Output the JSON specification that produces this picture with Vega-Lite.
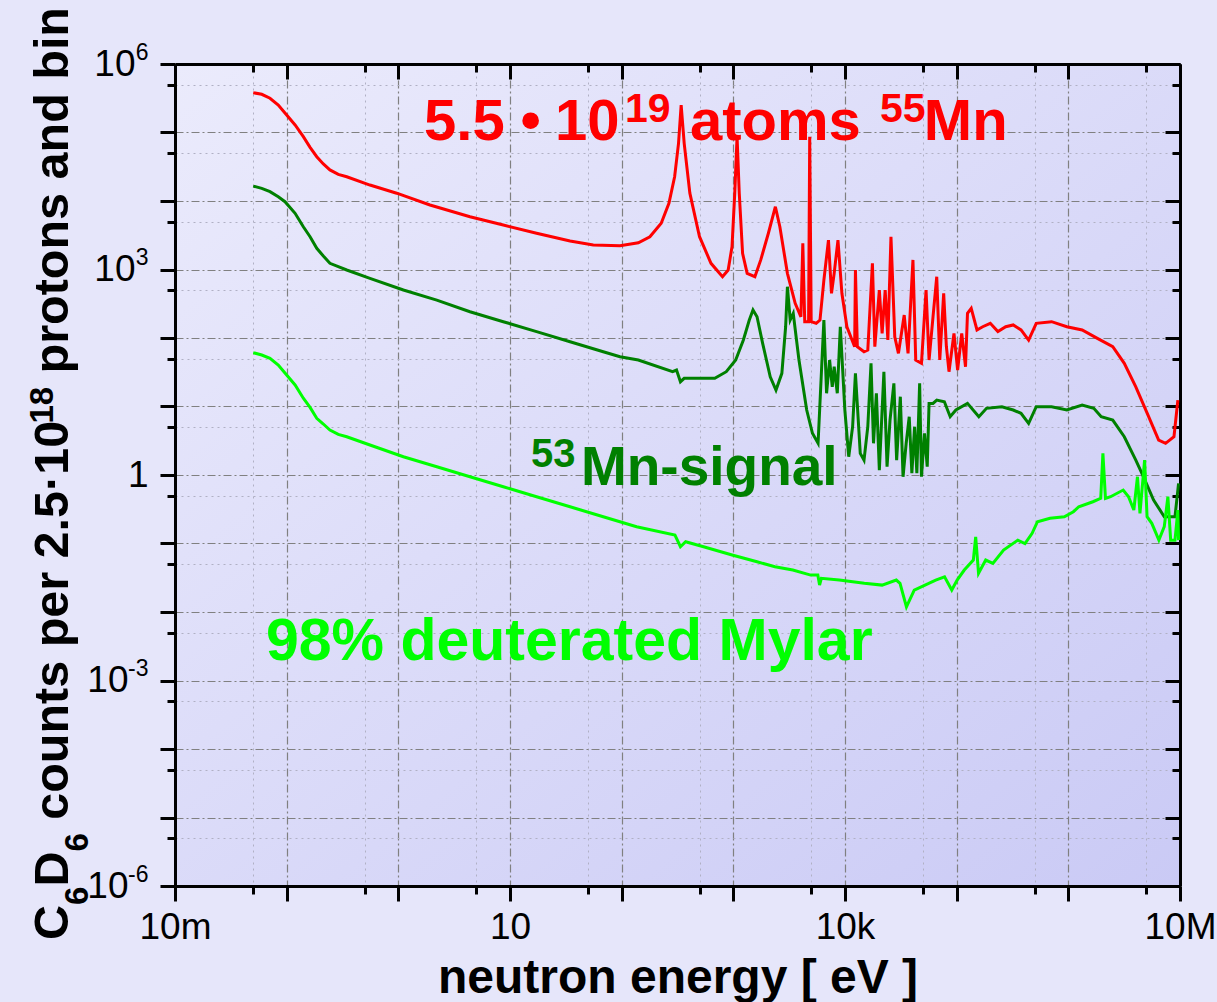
{
  "$schema": "https://vega.github.io/schema/vega-lite/v6.json",
  "width": 1005,
  "height": 822,
  "autosize": {"type": "none"},
  "padding": {"left": 175, "top": 64, "right": 37, "bottom": 116},
  "background": "#e6e6fa",
  "config": {
    "view": {"stroke": null, "fill": {"gradient": "linear", "x1": 0, "y1": 0, "x2": 1, "y2": 1, "stops": [{"offset": 0, "color": "#ebebfc"}, {"offset": 1, "color": "#cacaf5"}]}},
    "font": "Liberation Sans"
  },
  "datasets": {
    "curves": [
      {"s":"Mn55","e":0.0502,"c":381000},{"s":"Mn55","e":0.0598,"c":361000},{"s":"Mn55","e":0.0709,"c":316000},{"s":"Mn55","e":0.0841,"c":252000},{"s":"Mn55","e":0.1,"c":180000},{"s":"Mn55","e":0.119,"c":129000},{"s":"Mn55","e":0.141,"c":86900},{"s":"Mn55","e":0.162,"c":60800},{"s":"Mn55","e":0.186,"c":44300},{"s":"Mn55","e":0.213,"c":34700},{"s":"Mn55","e":0.244,"c":28400},{"s":"Mn55","e":0.29,"c":24500},{"s":"Mn55","e":0.345,"c":22600},{"s":"Mn55","e":0.557,"c":17100},{"s":"Mn55","e":0.967,"c":13000},{"s":"Mn55","e":1.92,"c":8740},{"s":"Mn55","e":4.38,"c":5900},{"s":"Mn55","e":8.71,"c":4460},{"s":"Mn55","e":17.3,"c":3380},{"s":"Mn55","e":34.5,"c":2610},{"s":"Mn55","e":55.7,"c":2280},{"s":"Mn55","e":96.6,"c":2220},{"s":"Mn55","e":141,"c":2460},{"s":"Mn55","e":179,"c":3010},{"s":"Mn55","e":226,"c":4720},{"s":"Mn55","e":265,"c":9250},{"s":"Mn55","e":298,"c":22600},{"s":"Mn55","e":323,"c":69500},{"s":"Mn55","e":341,"c":252000},{"s":"Mn55","e":363,"c":69500},{"s":"Mn55","e":408,"c":13000},{"s":"Mn55","e":498,"c":3010},{"s":"Mn55","e":631,"c":1230},{"s":"Mn55","e":800,"c":785},{"s":"Mn55","e":899,"c":983},{"s":"Mn55","e":973,"c":2150},{"s":"Mn55","e":1030,"c":13000},{"s":"Mn55","e":1080,"c":86900},{"s":"Mn55","e":1130,"c":13000},{"s":"Mn55","e":1210,"c":1720},{"s":"Mn55","e":1330,"c":879},{"s":"Mn55","e":1560,"c":785},{"s":"Mn55","e":1760,"c":1380},{"s":"Mn55","e":2060,"c":3380},{"s":"Mn55","e":2380,"c":8250},{"s":"Mn55","e":2610,"c":4210},{"s":"Mn55","e":3050,"c":879},{"s":"Mn55","e":3580,"c":321},{"s":"Mn55","e":4030,"c":204},{"s":"Mn55","e":4190,"c":2410},{"s":"Mn55","e":4360,"c":173},{"s":"Mn55","e":4720,"c":173},{"s":"Mn55","e":4830,"c":86900},{"s":"Mn55","e":4980,"c":173},{"s":"Mn55","e":5520,"c":164},{"s":"Mn55","e":5970,"c":183},{"s":"Mn55","e":6470,"c":702},{"s":"Mn55","e":7110,"c":2690},{"s":"Mn55","e":7570,"c":449},{"s":"Mn55","e":8000,"c":879},{"s":"Mn55","e":8650,"c":2690},{"s":"Mn55","e":9380,"c":449},{"s":"Mn55","e":10400,"c":146},{"s":"Mn55","e":12200,"c":74.6},{"s":"Mn55","e":12400,"c":983},{"s":"Mn55","e":12900,"c":74.6},{"s":"Mn55","e":14800,"c":63},{"s":"Mn55","e":16000,"c":66.7},{"s":"Mn55","e":17600,"c":1230},{"s":"Mn55","e":18500,"c":74.6},{"s":"Mn55","e":20300,"c":502},{"s":"Mn55","e":21500,"c":117},{"s":"Mn55","e":22900,"c":502},{"s":"Mn55","e":24200,"c":93.4},{"s":"Mn55","e":25800,"c":3010},{"s":"Mn55","e":27900,"c":104},{"s":"Mn55","e":30100,"c":59.7},{"s":"Mn55","e":33900,"c":216},{"s":"Mn55","e":36700,"c":59.7},{"s":"Mn55","e":40600,"c":1380},{"s":"Mn55","e":43000,"c":47.7},{"s":"Mn55","e":48400,"c":42.7},{"s":"Mn55","e":53200,"c":502},{"s":"Mn55","e":56600,"c":47.7},{"s":"Mn55","e":61400,"c":204},{"s":"Mn55","e":66300,"c":785},{"s":"Mn55","e":70600,"c":47.7},{"s":"Mn55","e":76500,"c":449},{"s":"Mn55","e":80900,"c":74.6},{"s":"Mn55","e":85400,"c":32.2},{"s":"Mn55","e":94600,"c":117},{"s":"Mn55","e":102000,"c":34.1},{"s":"Mn55","e":111000,"c":117},{"s":"Mn55","e":120000,"c":38.1},{"s":"Mn55","e":125000,"c":229},{"s":"Mn55","e":135000,"c":271},{"s":"Mn55","e":152000,"c":131},{"s":"Mn55","e":171000,"c":146},{"s":"Mn55","e":200000,"c":164},{"s":"Mn55","e":234000,"c":124},{"s":"Mn55","e":275000,"c":146},{"s":"Mn55","e":321000,"c":155},{"s":"Mn55","e":377000,"c":131},{"s":"Mn55","e":441000,"c":93.4},{"s":"Mn55","e":516000,"c":164},{"s":"Mn55","e":708000,"c":173},{"s":"Mn55","e":970000,"c":146},{"s":"Mn55","e":1330000,"c":131},{"s":"Mn55","e":1820000,"c":98.9},{"s":"Mn55","e":2500000,"c":74.6},{"s":"Mn55","e":3170000,"c":42.7},{"s":"Mn55","e":4020000,"c":19.4},{"s":"Mn55","e":5090000,"c":7.95},{"s":"Mn55","e":6440000,"c":3.24},{"s":"Mn55","e":7430000,"c":2.9},{"s":"Mn55","e":8830000,"c":3.62},{"s":"Mn55","e":9570000,"c":12.4},
      {"s":"Mn53","e":0.0502,"c":16500},{"s":"Mn53","e":0.0598,"c":15300},{"s":"Mn53","e":0.0709,"c":13700},{"s":"Mn53","e":0.0841,"c":11500},{"s":"Mn53","e":0.0966,"c":9760},{"s":"Mn53","e":0.119,"c":6610},{"s":"Mn53","e":0.141,"c":4210},{"s":"Mn53","e":0.162,"c":3010},{"s":"Mn53","e":0.186,"c":2040},{"s":"Mn53","e":0.213,"c":1570},{"s":"Mn53","e":0.244,"c":1230},{"s":"Mn53","e":0.29,"c":1100},{"s":"Mn53","e":0.345,"c":983},{"s":"Mn53","e":0.557,"c":743},{"s":"Mn53","e":1.11,"c":502},{"s":"Mn53","e":2.21,"c":358},{"s":"Mn53","e":4.38,"c":242},{"s":"Mn53","e":8.71,"c":173},{"s":"Mn53","e":17.3,"c":124},{"s":"Mn53","e":34.5,"c":88.2},{"s":"Mn53","e":68.4,"c":63},{"s":"Mn53","e":96.6,"c":53.3},{"s":"Mn53","e":141,"c":47.7},{"s":"Mn53","e":286,"c":32.2},{"s":"Mn53","e":310,"c":34.1},{"s":"Mn53","e":336,"c":23},{"s":"Mn53","e":363,"c":25.8},{"s":"Mn53","e":498,"c":25.8},{"s":"Mn53","e":682,"c":25.8},{"s":"Mn53","e":865,"c":32.2},{"s":"Mn53","e":1050,"c":47.7},{"s":"Mn53","e":1230,"c":93.4},{"s":"Mn53","e":1390,"c":183},{"s":"Mn53","e":1500,"c":256},{"s":"Mn53","e":1630,"c":204},{"s":"Mn53","e":1830,"c":83.6},{"s":"Mn53","e":2140,"c":27.2},{"s":"Mn53","e":2410,"c":17.4},{"s":"Mn53","e":2720,"c":30.5},{"s":"Mn53","e":2940,"c":146},{"s":"Mn53","e":3050,"c":561},{"s":"Mn53","e":3230,"c":183},{"s":"Mn53","e":3440,"c":229},{"s":"Mn53","e":3870,"c":47.7},{"s":"Mn53","e":4540,"c":8.88},{"s":"Mn53","e":5110,"c":4.06},{"s":"Mn53","e":5740,"c":2.9},{"s":"Mn53","e":6470,"c":183},{"s":"Mn53","e":6840,"c":15.6},{"s":"Mn53","e":7280,"c":47.7},{"s":"Mn53","e":7690,"c":19.4},{"s":"Mn53","e":8000,"c":38.1},{"s":"Mn53","e":8530,"c":15.6},{"s":"Mn53","e":9080,"c":146},{"s":"Mn53","e":9970,"c":8.88},{"s":"Mn53","e":10800,"c":1.85},{"s":"Mn53","e":11700,"c":5.07},{"s":"Mn53","e":12400,"c":30.5},{"s":"Mn53","e":13700,"c":2.07},{"s":"Mn53","e":14800,"c":1.65},{"s":"Mn53","e":16000,"c":5.07},{"s":"Mn53","e":17100,"c":42.7},{"s":"Mn53","e":18000,"c":2.9},{"s":"Mn53","e":19100,"c":15.6},{"s":"Mn53","e":20300,"c":1.18},{"s":"Mn53","e":22300,"c":32.2},{"s":"Mn53","e":23800,"c":1.32},{"s":"Mn53","e":25300,"c":6.34},{"s":"Mn53","e":27400,"c":21.8},{"s":"Mn53","e":29000,"c":1.65},{"s":"Mn53","e":31300,"c":13.9},{"s":"Mn53","e":33100,"c":0.943},{"s":"Mn53","e":35300,"c":2.9},{"s":"Mn53","e":37600,"c":7.09},{"s":"Mn53","e":39700,"c":1.06},{"s":"Mn53","e":42000,"c":5.07},{"s":"Mn53","e":44000,"c":1.06},{"s":"Mn53","e":46600,"c":21.8},{"s":"Mn53","e":48400,"c":0.943},{"s":"Mn53","e":51500,"c":4.06},{"s":"Mn53","e":54500,"c":1.32},{"s":"Mn53","e":56600,"c":11.1},{"s":"Mn53","e":61400,"c":11.1},{"s":"Mn53","e":66300,"c":12.4},{"s":"Mn53","e":77600,"c":11.7},{"s":"Mn53","e":87500,"c":7.09},{"s":"Mn53","e":98400,"c":8.88},{"s":"Mn53","e":125000,"c":11.1},{"s":"Mn53","e":158000,"c":7.09},{"s":"Mn53","e":185000,"c":9.4},{"s":"Mn53","e":254000,"c":9.92},{"s":"Mn53","e":321000,"c":8.88},{"s":"Mn53","e":377000,"c":7.95},{"s":"Mn53","e":441000,"c":5.68},{"s":"Mn53","e":516000,"c":9.92},{"s":"Mn53","e":708000,"c":9.92},{"s":"Mn53","e":970000,"c":8.88},{"s":"Mn53","e":1330000,"c":10.5},{"s":"Mn53","e":1690000,"c":9.4},{"s":"Mn53","e":1970000,"c":7.09},{"s":"Mn53","e":2500000,"c":6.34},{"s":"Mn53","e":3170000,"c":3.62},{"s":"Mn53","e":4020000,"c":1.65},{"s":"Mn53","e":4700000,"c":0.943},{"s":"Mn53","e":5800000,"c":0.431},{"s":"Mn53","e":7230000,"c":0.246},{"s":"Mn53","e":9020000,"c":0.246},{"s":"Mn53","e":9710000,"c":0.755},
      {"s":"Mylar","e":0.0502,"c":61},{"s":"Mylar","e":0.0598,"c":56.4},{"s":"Mylar","e":0.0709,"c":50.5},{"s":"Mylar","e":0.0841,"c":40.3},{"s":"Mylar","e":0.1,"c":28.8},{"s":"Mylar","e":0.119,"c":20.6},{"s":"Mylar","e":0.141,"c":13.2},{"s":"Mylar","e":0.162,"c":9.72},{"s":"Mylar","e":0.186,"c":6.72},{"s":"Mylar","e":0.213,"c":5.55},{"s":"Mylar","e":0.244,"c":4.53},{"s":"Mylar","e":0.29,"c":3.92},{"s":"Mylar","e":0.345,"c":3.62},{"s":"Mylar","e":0.557,"c":2.74},{"s":"Mylar","e":1.11,"c":1.85},{"s":"Mylar","e":2.21,"c":1.32},{"s":"Mylar","e":4.38,"c":0.943},{"s":"Mylar","e":8.71,"c":0.674},{"s":"Mylar","e":17.3,"c":0.482},{"s":"Mylar","e":34.5,"c":0.344},{"s":"Mylar","e":68.4,"c":0.246},{"s":"Mylar","e":136,"c":0.176},{"s":"Mylar","e":300,"c":0.133},{"s":"Mylar","e":336,"c":0.0897},{"s":"Mylar","e":374,"c":0.106},{"s":"Mylar","e":541,"c":0.0897},{"s":"Mylar","e":975,"c":0.0678},{"s":"Mylar","e":1630,"c":0.0541},{"s":"Mylar","e":2360,"c":0.0458},{"s":"Mylar","e":3410,"c":0.041},{"s":"Mylar","e":4930,"c":0.0346},{"s":"Mylar","e":5710,"c":0.0346},{"s":"Mylar","e":5920,"c":0.0247},{"s":"Mylar","e":6140,"c":0.031},{"s":"Mylar","e":8890,"c":0.0293},{"s":"Mylar","e":14900,"c":0.0262},{"s":"Mylar","e":21500,"c":0.0247},{"s":"Mylar","e":28800,"c":0.0293},{"s":"Mylar","e":31100,"c":0.0262},{"s":"Mylar","e":35500,"c":0.0119},{"s":"Mylar","e":41700,"c":0.0209},{"s":"Mylar","e":64900,"c":0.0293},{"s":"Mylar","e":77900,"c":0.0327},{"s":"Mylar","e":90400,"c":0.0209},{"s":"Mylar","e":101000,"c":0.0293},{"s":"Mylar","e":117000,"c":0.041},{"s":"Mylar","e":141000,"c":0.0573},{"s":"Mylar","e":148000,"c":0.125},{"s":"Mylar","e":157000,"c":0.0367},{"s":"Mylar","e":182000,"c":0.0573},{"s":"Mylar","e":211000,"c":0.0513},{"s":"Mylar","e":263000,"c":0.0802},{"s":"Mylar","e":353000,"c":0.112},{"s":"Mylar","e":409000,"c":0.1},{"s":"Mylar","e":474000,"c":0.141},{"s":"Mylar","e":529000,"c":0.208},{"s":"Mylar","e":685000,"c":0.233},{"s":"Mylar","e":920000,"c":0.246},{"s":"Mylar","e":1110000,"c":0.291},{"s":"Mylar","e":1240000,"c":0.344},{"s":"Mylar","e":1660000,"c":0.407},{"s":"Mylar","e":1950000,"c":0.456},{"s":"Mylar","e":2040000,"c":2.07},{"s":"Mylar","e":2150000,"c":0.456},{"s":"Mylar","e":2390000,"c":0.482},{"s":"Mylar","e":3100000,"c":0.603},{"s":"Mylar","e":3460000,"c":0.482},{"s":"Mylar","e":3860000,"c":0.308},{"s":"Mylar","e":4160000,"c":0.943},{"s":"Mylar","e":4380000,"c":0.276},{"s":"Mylar","e":4820000,"c":1.65},{"s":"Mylar","e":5070000,"c":0.246},{"s":"Mylar","e":5590000,"c":0.197},{"s":"Mylar","e":6470000,"c":0.112},{"s":"Mylar","e":7230000,"c":0.176},{"s":"Mylar","e":7790000,"c":0.482},{"s":"Mylar","e":8250000,"c":0.112},{"s":"Mylar","e":9020000,"c":0.112},{"s":"Mylar","e":9570000,"c":0.308},{"s":"Mylar","e":9710000,"c":0.112}
    ]
  },
  "layer": [
    {
      "data": {"values": [{}]},
      "mark": {"type": "text", "text": "98% deuterated Mylar", "font": "Liberation Sans", "fontWeight": "bold", "fontSize": 59, "color": "#00ff00", "align": "left", "baseline": "alphabetic"},
      "encoding": {
        "x": {"datum": 0.0653, "type": "quantitative", "scale": {"type": "log", "domain": [0.01, 10000000], "nice": false},
          "axis": {"orient": "bottom", "values": [0.05,0.5,5,50,500,5000,50000,500000,5000000], "tickSize": 8, "tickWidth": 3, "tickColor": "black", "domain": false, "labels": false, "grid": true, "gridColor": "#b0b0c4", "gridDash": [2,4], "gridWidth": 1, "title": null}},
        "y": {"datum": 0.00199, "type": "quantitative", "scale": {"type": "log", "domain": [0.000001, 1000000], "nice": false},
          "axis": {"orient": "left", "values": [0.000005,0.00005,0.0005,0.005,0.05,0.5,5,50,500,5000,50000,500000], "tickSize": 8, "tickWidth": 3, "tickColor": "black", "domain": false, "labels": false, "grid": true, "gridColor": "#b0b0c4", "gridDash": [2,4], "gridWidth": 1, "title": null}}
      }
    },
    {
      "data": {"values": [{}]},
      "mark": {"type": "text", "text": "Mn-signal", "font": "Liberation Sans", "fontWeight": "bold", "fontSize": 55, "color": "#008000", "align": "left", "baseline": "alphabetic"},
      "encoding": {
        "x": {"datum": 43.2, "type": "quantitative", "scale": {"type": "log", "domain": [0.01, 10000000], "nice": false},
          "axis": {"orient": "top", "values": [0.01,0.1,1,10,100,1000,10000,100000,1000000,10000000], "tickSize": -15, "tickWidth": 3, "tickColor": "black", "domain": true, "domainColor": "black", "domainWidth": 3, "labels": false, "grid": false, "title": null}},
        "y": {"datum": 0.714, "type": "quantitative", "scale": {"type": "log", "domain": [0.000001, 1000000], "nice": false},
          "axis": {"orient": "right", "values": [0.000001,0.00001,0.0001,0.001,0.01,0.1,1,10,100,1000,10000,100000,1000000], "tickSize": -15, "tickWidth": 3, "tickColor": "black", "domain": true, "domainColor": "black", "domainWidth": 3, "labels": false, "grid": false, "title": null}}
      }
    },
    {
      "data": {"values": [{}]},
      "mark": {"type": "text", "text": "53", "font": "Liberation Sans", "fontWeight": "bold", "fontSize": 40, "color": "#008000", "align": "left", "baseline": "alphabetic"},
      "encoding": {
        "x": {"datum": 15.4, "type": "quantitative", "scale": {"type": "log", "domain": [0.01, 10000000], "nice": false},
          "axis": {"orient": "top", "values": [0.05,0.5,5,50,500,5000,50000,500000,5000000], "tickSize": -8, "tickWidth": 3, "tickColor": "black", "domain": false, "labels": false, "grid": false, "title": null}},
        "y": {"datum": 1.32, "type": "quantitative", "scale": {"type": "log", "domain": [0.000001, 1000000], "nice": false},
          "axis": {"orient": "right", "values": [0.000005,0.00005,0.0005,0.005,0.05,0.5,5,50,500,5000,50000,500000], "tickSize": -8, "tickWidth": 3, "tickColor": "black", "domain": false, "labels": false, "grid": false, "title": null}}
      }
    },
    {
      "data": {"values": [{}]},
      "mark": {"type": "text", "text": "5.5", "font": "Liberation Sans", "fontWeight": "bold", "fontSize": 58, "color": "#ff0000", "align": "left", "baseline": "alphabetic"},
      "encoding": {
        "x": {"datum": 1.7, "type": "quantitative", "axis": null},
        "y": {"datum": 77700, "type": "quantitative", "scale": {"type": "log", "domain": [0.000001, 1000000], "nice": false},
          "axis": {"orient": "left", "values": [0.000001,0.001,1,1000,1000000],
            "labelExpr": "datum.value > 500000 ? '6' : datum.value > 500 ? '3' : datum.value > 0.5 ? '1' : datum.value > 0.0005 ? '-3' : '-6'",
            "tickSize": 15, "tickOpacity": 0, "domain": false, "grid": false,
            "labelFont": "Liberation Sans", "labelColor": "black", "labelAlign": "right", "labelPadding": 12, "labelFlush": false, "labelOverlap": false,
            "labelFontSize": {"condition": {"test": "datum.value == 1", "value": 37}, "value": 23},
            "labelBaseline": {"condition": {"test": "datum.value == 1", "value": "middle"}, "value": "bottom"},
            "title": null}}
      }
    },
    {
      "data": {"values": [{}]},
      "mark": {"type": "text", "text": "•", "font": "Liberation Sans", "fontWeight": "bold", "fontSize": 58, "color": "#ff0000", "align": "center", "baseline": "alphabetic"},
      "encoding": {"x": {"datum": 15.3, "type": "quantitative", "axis": null}, "y": {"datum": 77700, "type": "quantitative", "axis": null}}
    },
    {
      "data": {"values": [{}]},
      "mark": {"type": "text", "text": "10", "font": "Liberation Sans", "fontWeight": "bold", "fontSize": 58, "color": "#ff0000", "align": "left", "baseline": "alphabetic"},
      "encoding": {"x": {"datum": 25.3, "type": "quantitative", "axis": null}, "y": {"datum": 77700, "type": "quantitative", "axis": null}}
    },
    {
      "data": {"values": [{}]},
      "mark": {"type": "text", "text": "19", "font": "Liberation Sans", "fontWeight": "bold", "fontSize": 41, "color": "#ff0000", "align": "left", "baseline": "alphabetic"},
      "encoding": {"x": {"datum": 107, "type": "quantitative", "axis": null}, "y": {"datum": 140000, "type": "quantitative", "axis": null}}
    },
    {
      "data": {"values": [{}]},
      "mark": {"type": "text", "text": "atoms", "font": "Liberation Sans", "fontWeight": "bold", "fontSize": 58, "color": "#ff0000", "align": "left", "baseline": "alphabetic"},
      "encoding": {"x": {"datum": 409, "type": "quantitative", "axis": null}, "y": {"datum": 77700, "type": "quantitative", "axis": null}}
    },
    {
      "data": {"values": [{}]},
      "mark": {"type": "text", "text": "55", "font": "Liberation Sans", "fontWeight": "bold", "fontSize": 41, "color": "#ff0000", "align": "left", "baseline": "alphabetic"},
      "encoding": {"x": {"datum": 20600, "type": "quantitative", "axis": null}, "y": {"datum": 140000, "type": "quantitative", "axis": null}}
    },
    {
      "data": {"values": [{}]},
      "mark": {"type": "text", "text": "Mn", "font": "Liberation Sans", "fontWeight": "bold", "fontSize": 58, "color": "#ff0000", "align": "left", "baseline": "alphabetic"},
      "encoding": {"x": {"datum": 50800, "type": "quantitative", "axis": null}, "y": {"datum": 77700, "type": "quantitative", "axis": null}}
    },
    {
      "data": {"values": [{}]},
      "mark": {"type": "text", "text": "C", "angle": 270, "font": "Liberation Sans", "fontWeight": "bold", "fontSize": 48.5, "color": "black", "align": "left", "baseline": "alphabetic"},
      "encoding": {"x": {"datum": 0.0011, "type": "quantitative", "axis": null}, "y": {"datum": 0.000000163, "type": "quantitative", "axis": null}}
    },
    {
      "data": {"values": [{}]},
      "mark": {"type": "text", "text": "6", "angle": 270, "font": "Liberation Sans", "fontWeight": "bold", "fontSize": 33, "color": "black", "align": "left", "baseline": "alphabetic"},
      "encoding": {"x": {"datum": 0.00166, "type": "quantitative", "axis": null}, "y": {"datum": 0.000000528, "type": "quantitative", "axis": null}}
    },
    {
      "data": {"values": [{}]},
      "mark": {"type": "text", "text": "D", "angle": 270, "font": "Liberation Sans", "fontWeight": "bold", "fontSize": 48.5, "color": "black", "align": "left", "baseline": "alphabetic"},
      "encoding": {"x": {"datum": 0.0011, "type": "quantitative", "axis": null}, "y": {"datum": 0.00000098, "type": "quantitative", "axis": null}}
    },
    {
      "data": {"values": [{}]},
      "mark": {"type": "text", "text": "6", "angle": 270, "font": "Liberation Sans", "fontWeight": "bold", "fontSize": 33, "color": "black", "align": "left", "baseline": "alphabetic"},
      "encoding": {"x": {"datum": 0.00166, "type": "quantitative", "axis": null}, "y": {"datum": 0.00000318, "type": "quantitative", "axis": null}}
    },
    {
      "data": {"values": [{}]},
      "mark": {"type": "text", "text": "counts per 2.5·10", "angle": 270, "font": "Liberation Sans", "fontWeight": "bold", "fontSize": 48.5, "color": "black", "align": "left", "baseline": "alphabetic"},
      "encoding": {"x": {"datum": 0.0011, "type": "quantitative", "axis": null}, "y": {"datum": 0.00000926, "type": "quantitative", "axis": null}}
    },
    {
      "data": {"values": [{}]},
      "mark": {"type": "text", "text": "18", "angle": 270, "font": "Liberation Sans", "fontWeight": "bold", "fontSize": 33, "color": "black", "align": "left", "baseline": "alphabetic"},
      "encoding": {"x": {"datum": 0.000808, "type": "quantitative", "axis": null}, "y": {"datum": 5.63, "type": "quantitative", "axis": null}}
    },
    {
      "data": {"values": [{}]},
      "mark": {"type": "text", "text": "protons and bin", "angle": 270, "font": "Liberation Sans", "fontWeight": "bold", "fontSize": 48.5, "color": "black", "align": "left", "baseline": "alphabetic"},
      "encoding": {"x": {"datum": 0.0011, "type": "quantitative", "axis": null}, "y": {"datum": 30.4, "type": "quantitative", "axis": null}}
    },
    {
      "data": {"name": "curves"},
      "mark": {"type": "line", "strokeWidth": 3, "interpolate": "linear"},
      "encoding": {
        "x": {"field": "e", "type": "quantitative", "scale": {"type": "log", "domain": [0.01, 10000000], "nice": false},
          "axis": {"orient": "bottom", "values": [0.01,0.1,1,10,100,1000,10000,100000,1000000,10000000],
            "labelExpr": "datum.value < 0.02 ? '10m' : (datum.value > 5 && datum.value < 20) ? '10' : (datum.value > 5000 && datum.value < 20000) ? '10k' : datum.value > 5000000 ? '10M' : ''",
            "tickSize": 15, "tickWidth": 3, "tickColor": "black", "domainColor": "black", "domainWidth": 3,
            "grid": true, "gridColor": "#808080", "gridDash": [8,3,2,3], "gridWidth": 1.2,
            "labelFont": "Liberation Sans", "labelFontSize": 37, "labelColor": "black", "labelPadding": 8, "labelFlush": false, "labelOverlap": false,
            "title": "neutron energy [ eV ]", "titleFont": "Liberation Sans", "titleFontSize": 48, "titleFontWeight": "bold", "titleColor": "black", "titleY": 106, "titleBaseline": "alphabetic"}},
        "y": {"field": "c", "type": "quantitative", "scale": {"type": "log", "domain": [0.000001, 1000000], "nice": false},
          "axis": {"orient": "left", "values": [0.000001,0.00001,0.0001,0.001,0.01,0.1,1,10,100,1000,10000,100000,1000000],
            "labelExpr": "(datum.value > 500000 || (datum.value > 500 && datum.value < 2000) || (datum.value > 0.0005 && datum.value < 0.002) || datum.value < 0.000002) ? '10' : ''",
            "tickSize": 15, "tickWidth": 3, "tickColor": "black", "domainColor": "black", "domainWidth": 3,
            "grid": true, "gridColor": "#808080", "gridDash": [8,3,2,3], "gridWidth": 1.2,
            "labelFont": "Liberation Sans", "labelFontSize": 37, "labelColor": "black", "labelFlush": false, "labelOverlap": false,
            "labelPadding": {"condition": {"test": "datum.value < 0.01", "value": 32}, "value": 25},
            "title": null}},
        "color": {"field": "s", "type": "nominal", "scale": {"domain": ["Mn55", "Mn53", "Mylar"], "range": ["#ff0000", "#008000", "#00ff00"]}, "legend": null}
      }
    }
  ],
  "resolve": {"axis": {"x": "independent", "y": "independent"}}
}
